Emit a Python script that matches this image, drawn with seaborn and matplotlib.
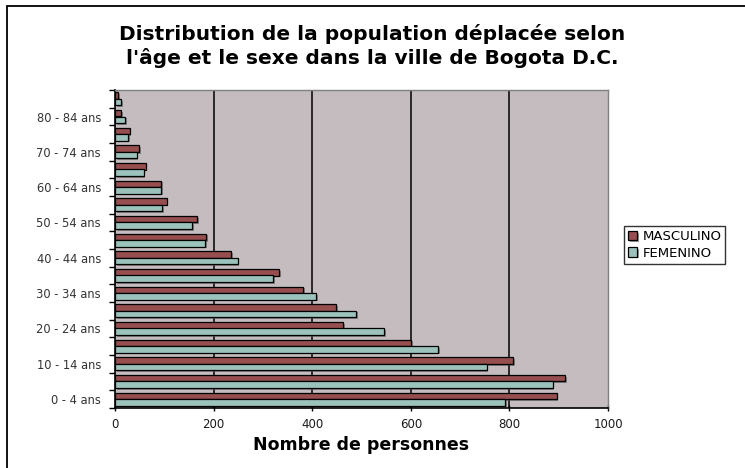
import matplotlib
matplotlib.use("Agg")
import matplotlib.pyplot as plt
import matplotlib.patheffects as pe
from matplotlib.patches import Rectangle
from matplotlib.ticker import FixedLocator
import pandas as pd
import seaborn as sns

# ------------------------------------------------------------
# Data, youngest group first
# ------------------------------------------------------------
AGE_GROUPS = [
    "0 - 4 ans", "5 - 9 ans", "10 - 14 ans", "15 - 19 ans", "20 - 24 ans",
    "25 - 29 ans", "30 - 34 ans", "35 - 39 ans", "40 - 44 ans", "45 - 49 ans",
    "50 - 54 ans", "55 - 59 ans", "60 - 64 ans", "65 - 69 ans", "70 - 74 ans",
    "75 - 79 ans", "80 - 84 ans", "85 ans et plus",
]
MASCULINO = [896, 913, 808, 601, 463, 448, 382, 333, 235, 185,
             167, 105, 93, 62, 49, 30, 13, 7]
FEMENINO = [792, 888, 754, 656, 546, 489, 408, 321, 249, 183,
            157, 96, 93, 58, 44, 27, 21, 13]
SERIES = ["MASCULINO", "FEMENINO"]
COLORS = {"MASCULINO": "#A24242", "FEMENINO": "#96C8C0"}
X_TICKS = [0, 200, 400, 600, 800, 1000]

TITLE = "Distribution de la population déplacée selon\nl'âge et le sexe dans la ville de Bogota D.C."
XLABEL = "Nombre de personnes"

df = pd.DataFrame({
    "age": AGE_GROUPS * 2,
    "sexe": ["MASCULINO"] * len(AGE_GROUPS) + ["FEMENINO"] * len(AGE_GROUPS),
    "n": MASCULINO + FEMENINO,
})

sns.set_theme(style="white")
plt.rcParams["font.family"] = ["DejaVu Sans"]
plt.rcParams["text.color"] = "black"

fig = plt.figure(figsize=(7.45, 4.68), dpi=100)
ax = fig.add_axes([115 / 745, 1 - 408 / 468, 493 / 745, 318 / 468])
ax.set_facecolor("#C4BCBF")

order = AGE_GROUPS[::-1]  # oldest at top, youngest at bottom
sns.barplot(data=df, x="n", y="age", hue="sexe", order=order,
            hue_order=SERIES, palette=COLORS, orient="h", width=0.72,
            edgecolor="black", linewidth=0.9, ax=ax, legend=True, zorder=3)

for bar in ax.patches:
    bar.set_path_effects([pe.SimplePatchShadow(offset=(1.2, -1.2),
                                               shadow_rgbFace="#555555", alpha=0.6),
                          pe.Normal()])

# axes / grid
ax.set_xlim(0, 1000)
ax.set_ylim(len(order) - 0.5, -0.5)
ax.set_xticks(X_TICKS)
ax.set_xticklabels([str(t) for t in X_TICKS], fontsize=8.5, color="#1a1a1a")
for x in X_TICKS[1:-1]:
    ax.axvline(x, color="black", lw=1.1, zorder=1)

labeled = [i for i, a in enumerate(order) if AGE_GROUPS.index(a) % 2 == 0
           and a != "85 ans et plus"]
ax.yaxis.set_major_locator(FixedLocator(labeled))
ax.set_yticklabels([order[i] for i in labeled], fontsize=8.3, color="#333333")
ax.yaxis.set_minor_locator(FixedLocator([i - 0.5 for i in range(len(order) + 1)]))
ax.tick_params(axis="y", which="major", length=0, pad=10)
ax.tick_params(axis="y", which="minor", length=4, width=1, color="black", left=True)
ax.tick_params(axis="x", which="major", length=4, width=1, color="black",
               bottom=True, direction="inout", pad=5)

for side in ["left", "bottom"]:
    ax.spines[side].set_color("black")
    ax.spines[side].set_linewidth(1.2)
for side in ["top", "right"]:
    ax.spines[side].set_color("#808080")
    ax.spines[side].set_linewidth(1)

ax.set_ylabel("")
ax.set_xlabel(XLABEL, fontsize=12.5, fontweight="bold", color="black", labelpad=4)

# legend outside the plot area
handles, labels = ax.get_legend_handles_labels()
ax.get_legend().remove()
leg = fig.legend(handles, labels, loc="center left",
                 bbox_to_anchor=(624 / 745, 1 - 245 / 468), fontsize=9.5,
                 frameon=True, fancybox=False, edgecolor="black",
                 borderaxespad=0, handlelength=0.7, handleheight=0.7,
                 handletextpad=0.4, borderpad=0.3, labelspacing=0.25)
leg.get_frame().set_linewidth(1)

fig.text(0.5, 1 - 46 / 468, TITLE, ha="center", va="center",
         fontsize=14.5, fontweight="bold", linespacing=1.2)

# chart-area frame (right and bottom edges fall outside the image)
fig.patches.append(Rectangle((7 / 745, -0.1), 1.2, 1.1 - 6 / 468,
                             transform=fig.transFigure, fill=False,
                             edgecolor="black", lw=1.3, clip_on=False))

fig.savefig("out.png", dpi=100, facecolor="white")
